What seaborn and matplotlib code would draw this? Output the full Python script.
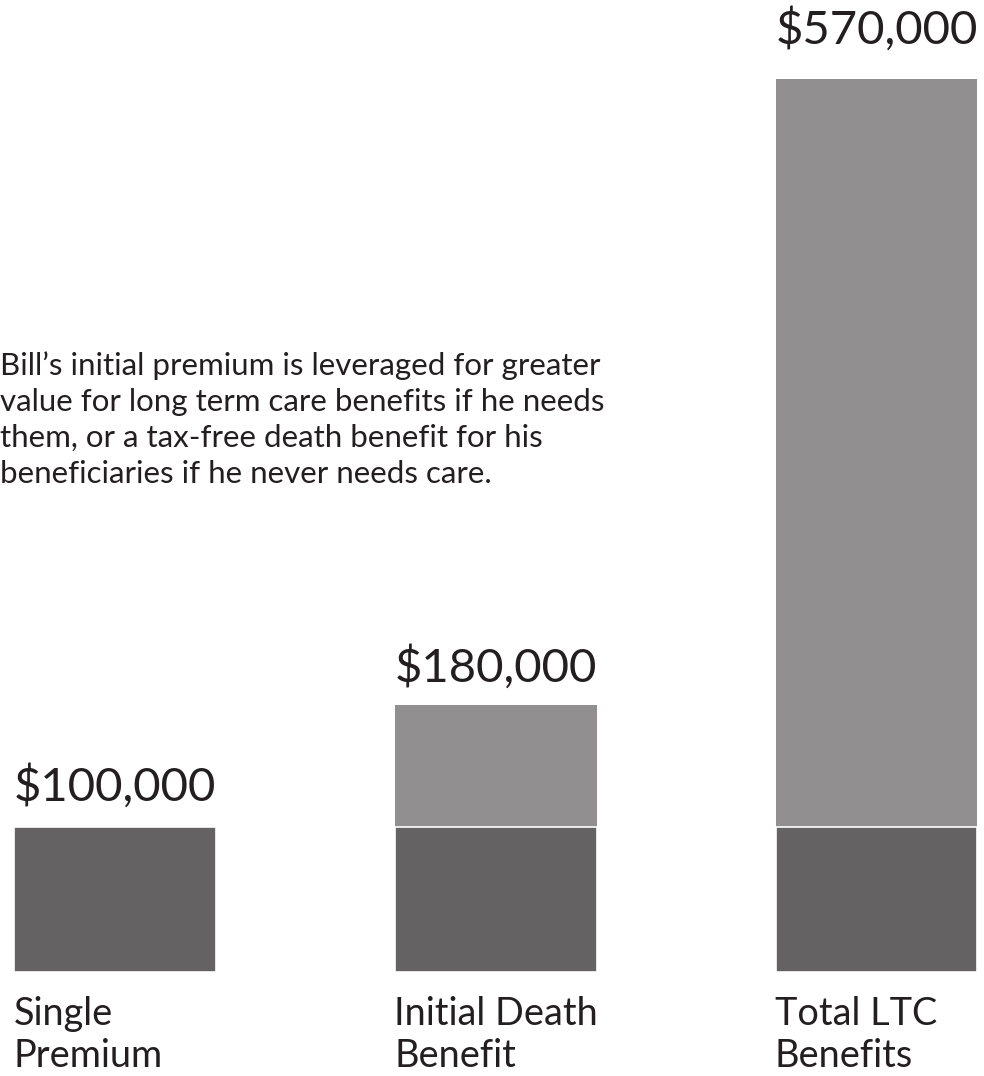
import matplotlib
matplotlib.use("Agg")
import matplotlib.pyplot as plt
import seaborn as sns
import pandas as pd

# ---- data (bar heights in drawn units; base segment = 100) ----
categories = ["Single\nPremium", "Initial Death\nBenefit", "Total LTC\nBenefits"]
base_values = [100, 100, 100]          # dark segment (single premium)
total_values = [100, 184, 616]         # drawn top of each bar
value_labels = ["$100,000", "$180,000", "$570,000"]
note_text = ("Bill\u2019s initial premium is leveraged for greater\n"
             "value for long term care benefits if he needs\n"
             "them, or a tax-free death benefit for his\n"
             "beneficiaries if he never needs care.")

DARK = "#646263"
LIGHT = "#918f90"
INK = "#231f20"

sns.set_theme(style="white")
plt.rcParams["font.family"] = ["Lato", "DejaVu Sans"]
WEIGHT = "normal"

df = pd.DataFrame({"category": categories, "base": base_values, "total": total_values})

W, H, DPI = 984, 1076, 100
fig = plt.figure(figsize=(W / DPI, H / DPI), dpi=DPI)
ax = fig.add_axes([0, 0, 1, 1])

bar_w = 0.53
sns.barplot(data=df, x="category", y="total", order=categories, color=LIGHT,
            saturation=1, width=bar_w, ax=ax, edgecolor="none")
sns.barplot(data=df, x="category", y="base", order=categories, color=DARK,
            saturation=1, width=bar_w, ax=ax, edgecolor="white", linewidth=1.2)

# layout: 1 unit = 1.45 px, baseline 104 px above figure bottom
px_per_unit = 1.45
ax.set_ylim(-104 / px_per_unit, (H - 104) / px_per_unit)
ax.set_xlim(-115 / 380.75, (W - 115) / 380.75)
ax.set_axis_off()

label_pads = [19, 17, 25.5]  # points above bar top
for i, (lab, top) in enumerate(zip(value_labels, total_values)):
    ax.annotate(lab, xy=(i, top), xytext=(0, label_pads[i]), textcoords="offset points",
                ha="center", va="baseline", fontsize=34, color=INK, fontweight=WEIGHT)

for i, cat in enumerate(categories):
    ax.annotate(cat, xy=(i - bar_w / 2, 0), xytext=(-0.5, -68.4), textcoords="offset points",
                ha="left", va="baseline", fontsize=27.3, color=INK, linespacing=1.21,
                fontweight=WEIGHT)

fig.text(0.0, 1 - 483 / H, note_text, ha="left", va="baseline", fontsize=22.5,
         color=INK, linespacing=1.345, fontweight=WEIGHT)

fig.savefig("out.png", dpi=DPI, facecolor="white")
